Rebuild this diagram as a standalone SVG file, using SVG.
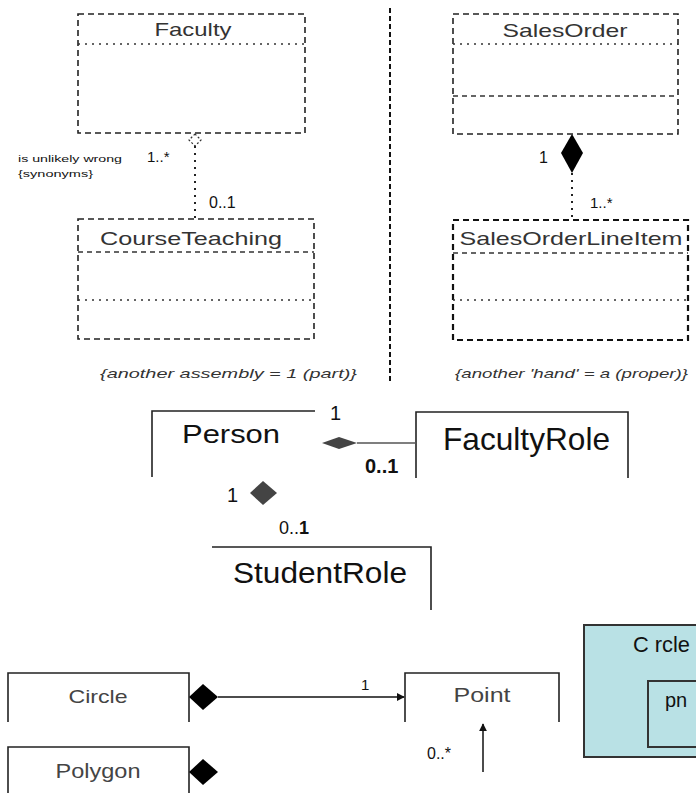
<svg xmlns="http://www.w3.org/2000/svg" width="696" height="793" viewBox="0 0 696 793">
<style>
text{font-family:"Liberation Sans",Arial,sans-serif;fill:#111}
.dbox{fill:none;stroke:#222;stroke-width:1.6;stroke-dasharray:6 4}
.dbox2{fill:none;stroke:#111;stroke-width:2.2;stroke-dasharray:6 4}
.sep{fill:none;stroke:#333;stroke-width:1.4;stroke-dasharray:2 5}
.sep2{fill:none;stroke:#333;stroke-width:1.4;stroke-dasharray:5 4}
.t{font-size:19px;fill:#333}
.note{font-size:13px;font-style:italic;fill:#333}
.sbox{fill:none;stroke:#222;stroke-width:1.6}
.conn{fill:none;stroke:#111;stroke-width:1.5}
.lt{fill:#444}
</style>
<defs>
<marker id="arr" viewBox="0 0 10 10" refX="9" refY="5" markerWidth="8" markerHeight="8" markerUnits="userSpaceOnUse" orient="auto">
<path d="M0,0 L10,5 L0,10 z" fill="#111"/>
</marker>
</defs>

<!-- divider -->
<line x1="390" y1="8" x2="390" y2="382" stroke="#111" stroke-width="2" stroke-dasharray="5 3"/>

<g id="faculty">
<rect class="dbox" x="78" y="14" width="227" height="119"/>
<line class="sep" x1="78" y1="44" x2="305" y2="44"/>
<text class="t" x="193" y="36" text-anchor="middle" textLength="77" lengthAdjust="spacingAndGlyphs">Faculty</text>
</g>

<g id="courseteaching">
<rect class="dbox" x="78" y="219" width="236" height="120"/>
<line class="sep2" x1="78" y1="252" x2="314" y2="252"/>
<line class="sep" x1="78" y1="300" x2="314" y2="300"/>
<text class="t" x="191" y="245" text-anchor="middle" textLength="182" lengthAdjust="spacingAndGlyphs">CourseTeaching</text>
</g>

<g id="salesorder">
<rect class="dbox" x="453" y="14" width="225" height="120"/>
<line class="sep" x1="453" y1="44" x2="678" y2="44"/>
<line class="sep2" x1="453" y1="96" x2="678" y2="96"/>
<text class="t" x="565" y="37" text-anchor="middle" textLength="125" lengthAdjust="spacingAndGlyphs">SalesOrder</text>
</g>

<g id="salesorderlineitem">
<rect class="dbox2" x="453" y="220" width="235" height="120"/>
<line class="sep2" x1="453" y1="253" x2="688" y2="253"/>
<line class="sep" x1="453" y1="300" x2="688" y2="300"/>
<text class="t" x="571" y="245" text-anchor="middle" textLength="223" lengthAdjust="spacingAndGlyphs">SalesOrderLineItem</text>
</g>

<g id="notes">
<text class="note" x="100" y="378" textLength="257" lengthAdjust="spacingAndGlyphs">{another assembly = 1 (part)}</text>
<text class="note" x="455" y="378" textLength="233" lengthAdjust="spacingAndGlyphs">{another 'hand' = a (proper)}</text>
<text x="18" y="162" font-size="9" fill="#222" textLength="104" lengthAdjust="spacingAndGlyphs">is unlikely wrong</text>
<text x="18" y="177" font-size="9" fill="#222" textLength="75" lengthAdjust="spacingAndGlyphs">{synonyms}</text>
</g>

<g id="person">
<path class="sbox" d="M152,477 V411 H315"/>
<text x="182" y="443" font-size="25" textLength="98" lengthAdjust="spacingAndGlyphs">Person</text>
</g>

<g id="facultyrole">
<path class="sbox" d="M416,478 V412 H628 V478"/>
<text x="443" y="450" font-size="32" textLength="167" lengthAdjust="spacingAndGlyphs">FacultyRole</text>
</g>

<g id="studentrole">
<path class="sbox" d="M212,547 H431 V610"/>
<text x="233" y="583" font-size="30" textLength="174" lengthAdjust="spacingAndGlyphs">StudentRole</text>
</g>

<g id="circle">
<path class="sbox" d="M8,722 V673 H189 V722"/>
<text class="lt" x="98" y="703" font-size="19" text-anchor="middle" textLength="59" lengthAdjust="spacingAndGlyphs">Circle</text>
</g>

<g id="polygon">
<path class="sbox" d="M8,793 V747 H189 V793"/>
<text class="lt" x="98" y="778" font-size="20" text-anchor="middle" textLength="85" lengthAdjust="spacingAndGlyphs">Polygon</text>
</g>

<g id="point">
<path class="sbox" d="M405,722 V673 H559 V722"/>
<text class="lt" x="482" y="702" font-size="20" text-anchor="middle" textLength="57" lengthAdjust="spacingAndGlyphs">Point</text>
</g>

<g id="circle-structure">
<rect x="584" y="625" width="120" height="132" fill="#b9e1e5" stroke="#333" stroke-width="2"/>
<text x="633" y="652" font-size="22" fill="#222" textLength="57" lengthAdjust="spacingAndGlyphs">C rcle</text>
<rect x="648" y="681" width="60" height="66" fill="none" stroke="#333" stroke-width="2"/>
<text x="665" y="707" font-size="20" fill="#222">pn</text>
</g>

<g id="connectors">
<!-- Faculty - CourseTeaching -->
<path d="M195,134 L201,140 L195,146 L189,140 z" fill="none" stroke="#333" stroke-width="1.2" stroke-dasharray="2 2"/>
<line x1="195" y1="146" x2="195" y2="219" stroke="#222" stroke-width="2" stroke-dasharray="2 5"/>
<text x="147" y="162" font-size="15">1..*</text>
<text x="209" y="208" font-size="16">0..1</text>
<!-- SalesOrder - LineItem -->
<path d="M572,134 L583,153 L572,173 L561,153 z" fill="#000"/>
<line x1="572" y1="173" x2="572" y2="219" stroke="#222" stroke-width="2" stroke-dasharray="2 5"/>
<text x="539" y="163" font-size="16">1</text>
<text x="590" y="208" font-size="15">1..*</text>
<!-- Person - FacultyRole -->
<path d="M322,443 L339,437 L357,443 L339,449 z" fill="#444"/>
<line x1="357" y1="443" x2="416" y2="443" stroke="#555" stroke-width="1.6"/>
<text x="330" y="420" font-size="20">1</text>
<text x="365" y="473" font-size="20" font-weight="bold">0..1</text>
<!-- Person - StudentRole -->
<path d="M250,493 L263,481 L277,493 L263,505 z" fill="#444"/>
<text x="227" y="502" font-size="20">1</text>
<text x="279" y="534" font-size="18">0..<tspan font-weight="bold">1</tspan></text>
<!-- Circle - Point -->
<path d="M189,697 L203,684 L218,697 L203,710 z" fill="#000"/>
<line class="conn" x1="218" y1="697" x2="404" y2="697" marker-end="url(#arr)"/>
<text x="361" y="690" font-size="15">1</text>
<!-- Polygon -->
<path d="M189,772 L203,759 L218,772 L203,785 z" fill="#000"/>
<!-- Point up arrow -->
<line class="conn" x1="483" y1="772" x2="483" y2="724" marker-end="url(#arr)"/>
<text x="427" y="759" font-size="16" fill="#333">0..*</text>
</g>
</svg>
